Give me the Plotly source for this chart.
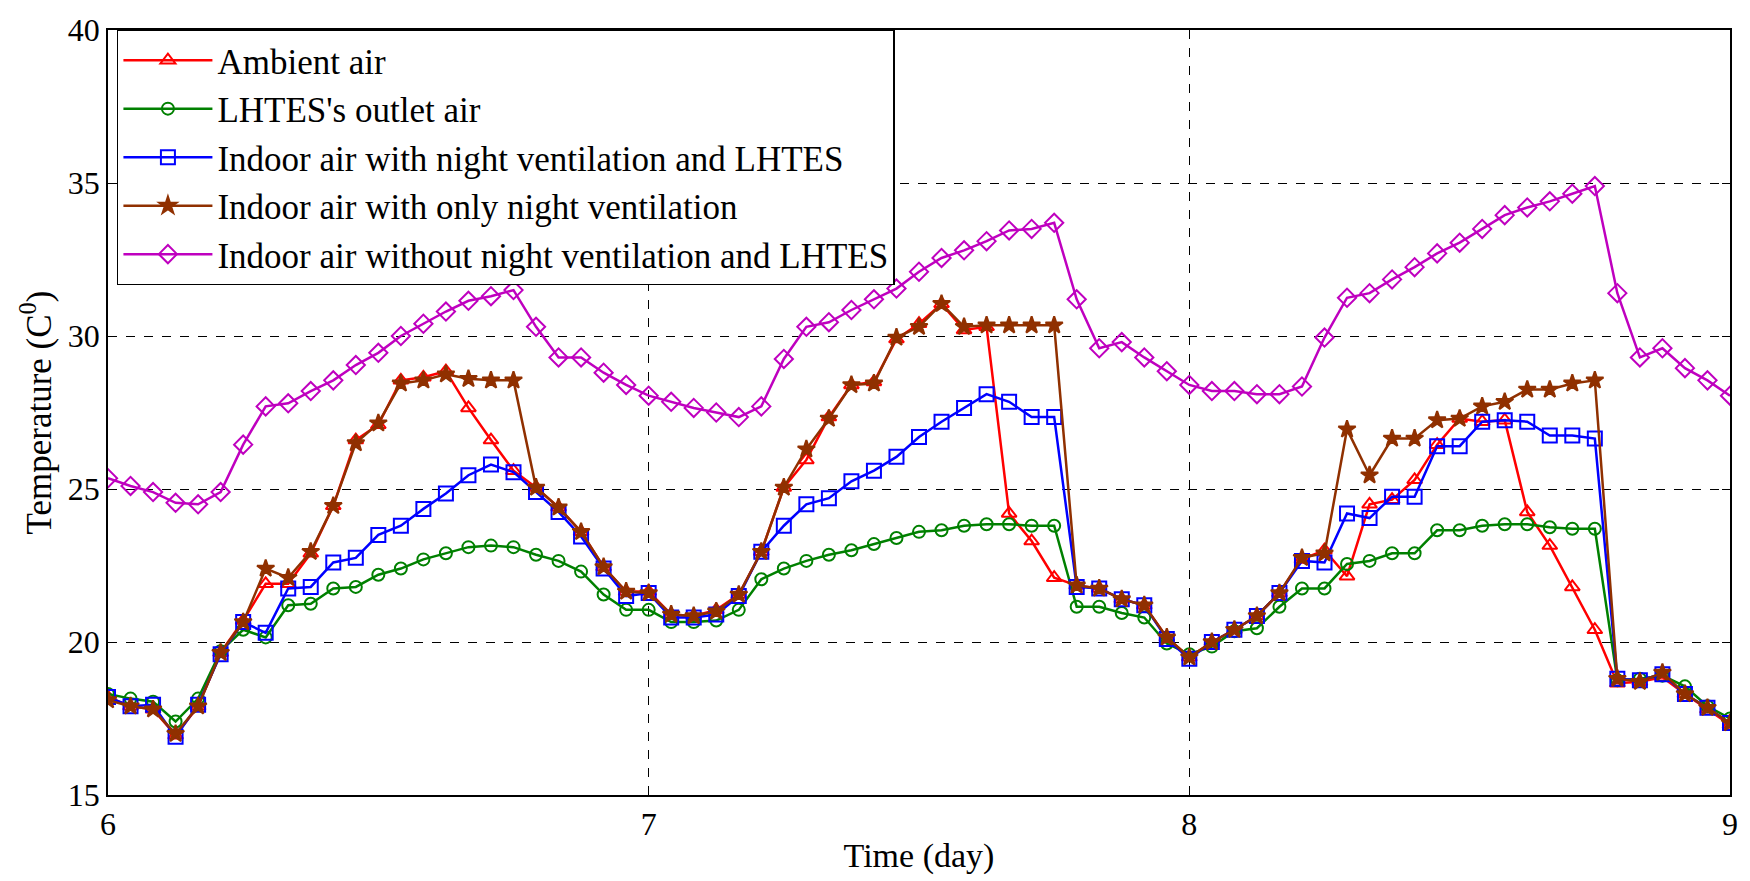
import plotly.graph_objects as go

# hourly samples from day 6.0 to day 9.0
hours = list(range(73))
time_day = [6 + h / 24 for h in hours]

ambient = [18.2, 17.9, 17.8, 16.95, 17.9, 19.65, 20.7, 21.9, 21.9, 22.9, 24.45, 26.6, 27.1, 28.55, 28.65, 28.85, 27.65, 26.6, 25.6,
           25.05, 24.4, 23.6, 22.45, 21.65, 21.65, 20.9, 20.85, 21.05, 21.55, 22.95, 25.05, 25.95, 27.35, 28.4, 28.5, 29.9, 30.4,
           31.05, 30.2, 30.3, 24.2, 23.3, 22.1, 21.85, 21.75, 21.4, 21.2, 20.15, 19.5, 20.0, 20.4, 20.85, 21.6, 22.7,
           23.0, 22.15, 24.5, 24.65, 25.3, 26.45, 27.3, 27.2, 27.25, 24.25, 23.15, 21.8, 20.4, 18.65, 18.7, 18.85, 18.3, 17.8, 17.3]

lhtes_outlet = [18.3, 18.15, 18.05, 17.4, 18.15, 19.7, 20.4, 20.15, 21.2, 21.25, 21.75, 21.8, 22.2, 22.4, 22.7, 22.9, 23.1, 23.15, 23.1,
                22.85, 22.65, 22.3, 21.55, 21.05, 21.05, 20.65, 20.65, 20.7, 21.05, 22.05, 22.4, 22.65, 22.85, 23.0, 23.2, 23.4, 23.6,
                23.65, 23.8, 23.85, 23.85, 23.8, 23.8, 21.15, 21.15, 20.95, 20.8, 19.95, 19.6, 19.85, 20.35, 20.45, 21.15, 21.75,
                21.75, 22.55, 22.65, 22.9, 22.9, 23.65, 23.65, 23.8, 23.85, 23.85, 23.75, 23.7, 23.7, 18.75, 18.8, 18.9, 18.55, 17.9, 17.5]

indoor_nv_lhtes = [18.2, 17.9, 17.95, 16.9, 17.95, 19.6, 20.65, 20.3, 21.75, 21.8, 22.6, 22.75, 23.5, 23.8, 24.35, 24.85, 25.45, 25.8, 25.55,
                   24.9, 24.25, 23.45, 22.4, 21.5, 21.6, 20.8, 20.8, 20.9, 21.5, 22.95, 23.8, 24.5, 24.7, 25.25, 25.6, 26.05, 26.7,
                   27.2, 27.65, 28.1, 27.85, 27.35, 27.35, 21.8, 21.75, 21.4, 21.2, 20.1, 19.45, 20.0, 20.4, 20.85, 21.6, 22.65,
                   22.6, 24.2, 24.05, 24.75, 24.75, 26.4, 26.4, 27.2, 27.25, 27.2, 26.75, 26.75, 26.65, 18.8, 18.75, 18.95, 18.3, 17.85, 17.35]

indoor_nv_only = [18.1, 17.9, 17.8, 17.0, 17.9, 19.65, 20.65, 22.4, 22.1, 22.95, 24.45, 26.5, 27.15, 28.45, 28.55, 28.75, 28.6, 28.55, 28.55,
                  25.05, 24.4, 23.6, 22.45, 21.65, 21.6, 20.9, 20.85, 21.0, 21.55, 22.95, 25.05, 26.3, 27.3, 28.4, 28.45, 29.95, 30.3,
                  31.05, 30.3, 30.35, 30.35, 30.35, 30.35, 21.85, 21.75, 21.4, 21.2, 20.15, 19.5, 20.0, 20.4, 20.85, 21.6, 22.75,
                  22.9, 26.95, 25.45, 26.65, 26.65, 27.25, 27.3, 27.7, 27.85, 28.25, 28.25, 28.45, 28.55, 18.8, 18.7, 19.0, 18.3, 17.85, 17.35]

indoor_none = [25.35, 25.1, 24.9, 24.55, 24.5, 24.9, 26.45, 27.7, 27.8, 28.2, 28.55, 29.05, 29.45, 30.0, 30.4, 30.8, 31.15, 31.3, 31.5,
               30.3, 29.3, 29.3, 28.8, 28.4, 28.05, 27.85, 27.65, 27.5, 27.35, 27.7, 29.25, 30.3, 30.45, 30.85, 31.2, 31.55, 32.1,
               32.55, 32.8, 33.1, 33.45, 33.5, 33.7, 31.2, 29.6, 29.8, 29.3, 28.85, 28.4, 28.2, 28.2, 28.1, 28.1, 28.35,
               29.95, 31.25, 31.4, 31.85, 32.25, 32.7, 33.05, 33.5, 33.95, 34.2, 34.4, 34.65, 34.9, 31.4, 29.3, 29.6, 28.95, 28.55, 28.05]

series_names = ["Ambient air", "LHTES's outlet air", "Indoor air with night ventilation and LHTES",
                "Indoor air with only night ventilation", "Indoor air without night ventilation and LHTES"]
series_values = [ambient, lhtes_outlet, indoor_nv_lhtes, indoor_nv_only, indoor_none]
colors = ["#FF0000", "#008000", "#0000FF", "#903000", "#BF00BF"]
symbols = ["triangle-up-open", "circle-open", "square-open", "star", "diamond-open"]
sizes = [13, 12, 14, 13, 14]

x_ticks = [6, 7, 8, 9]
y_ticks = [15, 20, 25, 30, 35, 40]

FONT = "Liberation Serif, Times New Roman, serif"
FS_TICK = 32
FS_TEXT = 35

fig = go.Figure()
for i, (name, vals) in enumerate(zip(series_names, series_values)):
    fig.add_trace(go.Scatter(
        x=time_day, y=vals, name=name, mode="lines+markers",
        line=dict(color=colors[i], width=2.5),
        marker=dict(symbol=symbols[i], size=sizes[i], color=colors[i],
                    line=dict(color=colors[i], width=2)),
    ))

axis_common = dict(
    showline=True, linecolor="black", linewidth=1.5, mirror="ticks",
    ticks="inside", ticklen=8, tickcolor="black",
    showgrid=True, gridcolor="black", gridwidth=1, griddash="dash",
    zeroline=False,
    tickfont=dict(family=FONT, size=FS_TICK, color="black"),
)

fig.update_layout(
    width=1750, height=881,
    margin=dict(l=108, r=17, t=22, b=86),
    paper_bgcolor="white", plot_bgcolor="white",
    font=dict(family=FONT, color="black"),
    xaxis=dict(range=[6, 9], tickvals=x_ticks, ticktext=[str(v) for v in x_ticks],
               title=dict(text="Time (day)", font=dict(family=FONT, size=FS_TEXT - 1), standoff=2),
               **axis_common),
    yaxis=dict(range=[15, 40], tickvals=y_ticks, ticktext=[str(v) for v in y_ticks],
               title=dict(text="Temperature (C<sup>0</sup>)", font=dict(family=FONT, size=FS_TEXT), standoff=6),
               **axis_common),
    legend=dict(x=0.0055, y=1.0008, xanchor="left", yanchor="top",
                bgcolor="white", bordercolor="black", borderwidth=1.5,
                font=dict(family=FONT, size=FS_TEXT, color="black"),
                traceorder="normal", itemwidth=89),
    showlegend=True,
)

fig.write_html("out.html", config={"displayModeBar": False},
               post_script="document.body.style.margin='0';document.body.style.overflow='hidden';")
